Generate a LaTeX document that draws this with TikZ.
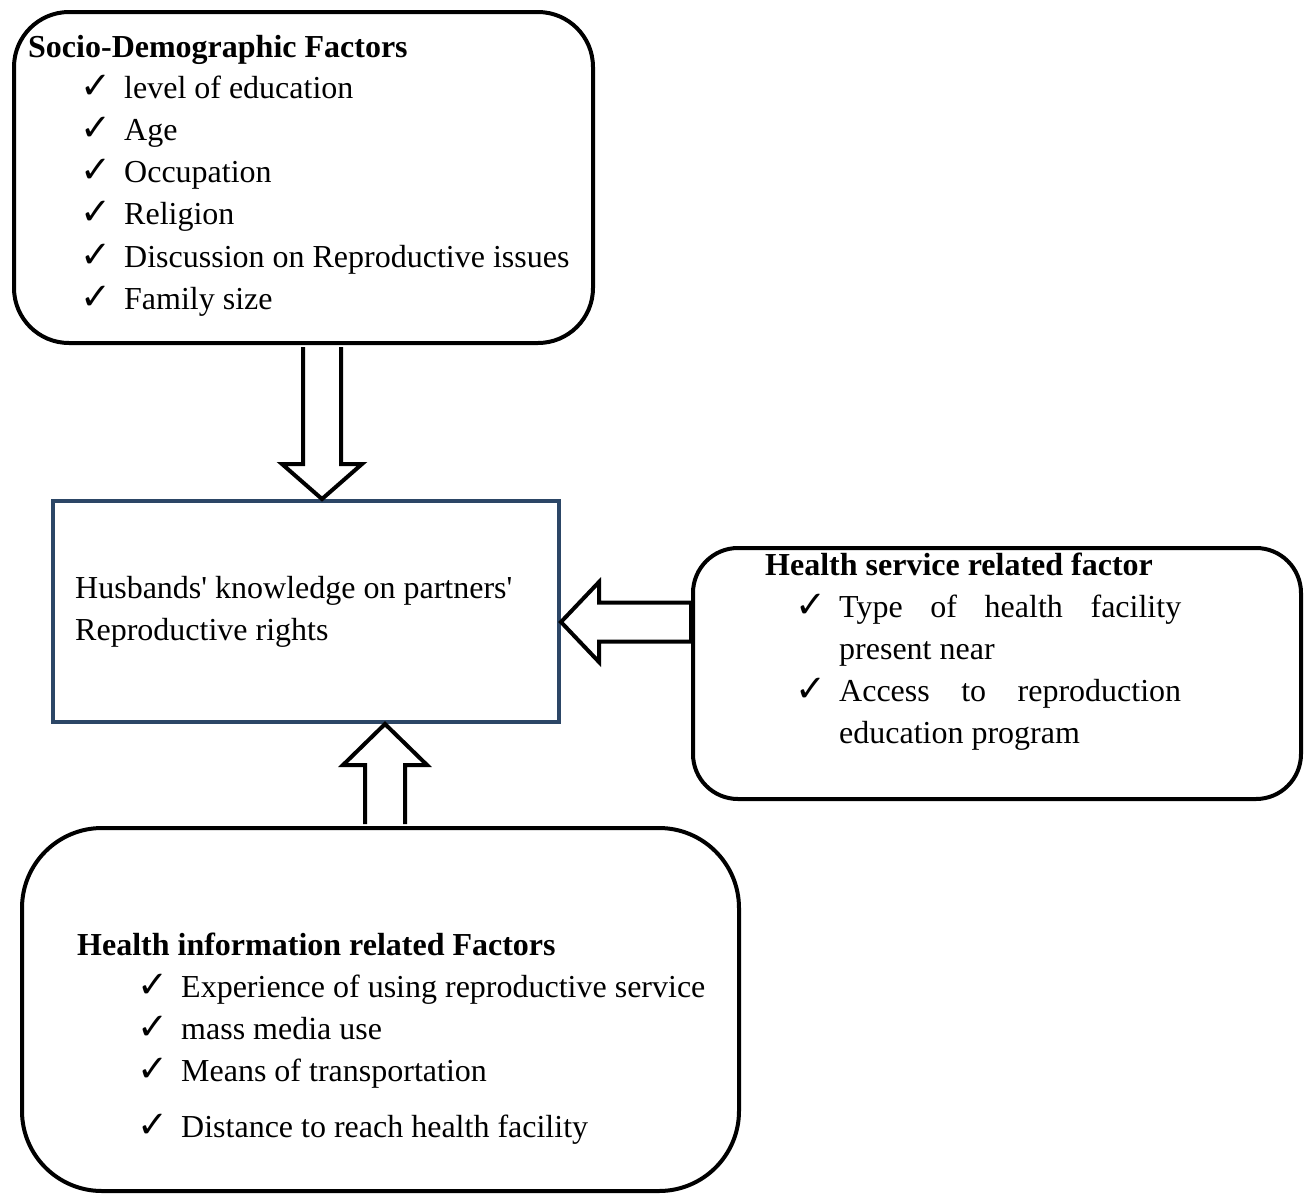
\documentclass[tikz,border=0pt]{standalone}
\usepackage{fontspec}
\setmainfont{Liberation Serif}[Ligatures=TeXOff]
\newfontfamily\ckfont{DejaVu Sans}
\usetikzlibrary{calc}
\definecolor{boxblue}{RGB}{44,70,102}
\tikzset{fbox/.style={draw, line width=4pt, fill=white}}
\tikzset{l/.style={anchor=base west, inner sep=0pt, font=\fontsize{32}{42.3}\selectfont}}
\tikzset{h/.style={anchor=base west, inner sep=0pt, font=\fontsize{32}{42.3}\selectfont\bfseries}}
\tikzset{hollow/.style={draw, line width=4pt, fill=white, line join=miter}}
\newcommand{\ck}{\makebox[44pt][l]{\ckfont\fontsize{37}{37}\selectfont ✓}}

\begin{document}
\begin{tikzpicture}[x=1pt, y=-1pt]
  \useasboundingbox (0,0) rectangle (1310,1195);
  % the four boxes
  \node[fbox, rounded corners=55pt, minimum width=579pt, minimum height=331pt] (socio) at (303.5,177.5) {};
  \node[fbox, draw=boxblue, minimum width=506pt, minimum height=221pt] (core) at (306,611.5) {};
  \node[fbox, rounded corners=45pt, minimum width=608pt, minimum height=251pt] (svc) at (997,673.5) {};
  \node[fbox, rounded corners=80pt, minimum width=717pt, minimum height=363pt] (info) at (380.5,1009.5) {};

  % texts
  \node[h] (socio-h) at (28,57) {Socio-Demographic Factors};
  \node[l] (socio-l) at (80,98) {\begin{tabular}[t]{@{}l@{}}
      \ck level of education\\
      \ck Age\\
      \ck Occupation\\
      \ck Religion\\
      \ck Discussion on Reproductive issues\\
      \ck Family size
    \end{tabular}};
  \node[l] (core-t) at (75,598) {\begin{tabular}[t]{@{}l@{}}
      Husbands' knowledge on partners'\\
      Reproductive rights
    \end{tabular}};
  \node[h] (svc-h) at (765,575) {Health service related factor};
  \node[l] (svc-l) at (795,617) {\begin{tabular}[t]{@{}l@{}}
      \ck\makebox[342pt][s]{Type of health facility}\\
      \hspace*{44pt}present near\\
      \ck\makebox[342pt][s]{Access to reproduction}\\
      \hspace*{44pt}education program
    \end{tabular}};
  \node[h] (info-h) at (77,955) {Health information related Factors};
  \node[l] (info-l) at (137,997) {\begin{tabular}[t]{@{}l@{}}
      \ck Experience of using reproductive service\\
      \ck mass media use\\
      \ck Means of transportation\\[13.7pt]
      \ck Distance to reach health facility
    \end{tabular}};

  % block arrows
  \path (socio.south) ++(18.5,2) coordinate (dtail);
  \coordinate (dtip) at (core.north -| dtail);
  \path (info.north) ++(4.5,-2) coordinate (utail);
  \coordinate (utip) at (core.south -| utail);
  \path (svc.west) ++(0,-51.5) coordinate (ltail);
  \coordinate (ltip) at (core.east |- ltail);

  \draw[hollow] let \p1=(dtail), \p2=(dtip) in
    (\x1-19pt,\y1) -- (\x1-19pt,\y2+35pt) -- (\x1-40pt,\y2+35pt) -- (\x2,\y2)
    -- (\x1+40pt,\y2+35pt) -- (\x1+19pt,\y2+35pt) -- (\x1+19pt,\y1);
  \draw[hollow] let \p1=(utail), \p2=(utip) in
    (\x1-20pt,\y1) -- (\x1-20pt,\y2-41pt) -- (\x1-42pt,\y2-41pt) -- (\x2,\y2)
    -- (\x1+42pt,\y2-41pt) -- (\x1+20pt,\y2-41pt) -- (\x1+20pt,\y1);
  \draw[hollow] let \p1=(ltail), \p2=(ltip) in
    (\x1,\y1+19.5pt) -- (\x2+38pt,\y1+19.5pt) -- (\x2+38pt,\y1+40pt) -- (\x2,\y2)
    -- (\x2+38pt,\y1-40pt) -- (\x2+38pt,\y1-19.5pt) -- (\x1,\y1-19.5pt) -- cycle;
\end{tikzpicture}
\end{document}
